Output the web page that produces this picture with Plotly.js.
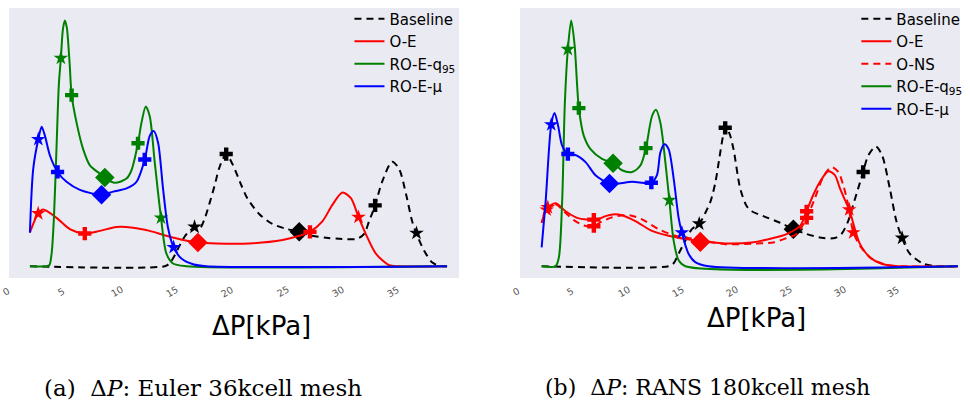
<!DOCTYPE html>
<html>
<head>
<meta charset="utf-8">
<script src="https://cdn.plot.ly/plotly-3.0.1.min.js"></script>
<style>
html,body{margin:0;padding:0;background:#fff;}
#chart{width:970px;height:403px;}
</style>
</head>
<body>
<div id="chart"></div>
<script>
// ---------------- DATA ----------------
const tickValues = [0, 5, 10, 15, 20, 25, 30, 35];
const seriesNames = ["Baseline", "O-E", "O-NS", "RO-E-q<sub>95</sub>", "RO-E-\u03bc"];
const captionA = "(a)\u00a0\u00a0\u0394<i>P</i>: Euler 36kcell mesh";
const captionB = "(b)\u00a0\u00a0\u0394<i>P</i>: RANS 180kcell mesh";
const axisLabel = "\u0394P[kPa]";

// (a) Euler 36kcell mesh
const aBaseX = [2.16, 14.34, 14.79, 15.24, 15.69, 16.14, 16.59, 17.04, 17.49, 17.94, 18.39, 18.85, 19.3, 19.9, 20.47, 21.25, 21.82, 22.9, 24.08, 25.34, 26.51, 27.68, 28.94, 30.12, 31.74, 32.37, 32.82, 33.36, 33.99, 34.9, 35.53, 36.16, 36.7, 37.06, 37.78, 38.5, 39.13, 39.86];
const aBaseY = [0, 0, 0.012, 0.044, 0.084, 0.12, 0.144, 0.156, 0.152, 0.192, 0.256, 0.328, 0.404, 0.456, 0.416, 0.332, 0.276, 0.212, 0.172, 0.152, 0.14, 0.124, 0.116, 0.112, 0.112, 0.132, 0.184, 0.248, 0.344, 0.426, 0.396, 0.292, 0.184, 0.136, 0.064, 0.016, 0.002, 0];
const aBaseMX = [17.04, 19.9, 26.5, 33.36, 37.1];
const aBaseMY = [0.16, 0.457, 0.14, 0.248, 0.135];

const aOEX = [2.16, 2.91, 3.36, 4.57, 5.77, 7.12, 8.48, 9.98, 11.48, 12.98, 14.49, 15.99, 17.34, 19.0, 22.0, 25.0, 26.51, 27.47, 28.61, 29.51, 30.41, 31.17, 31.86, 32.52, 33.43, 34.63, 35.53, 39.86];
const aOEY = [0.137, 0.215, 0.231, 0.197, 0.151, 0.133, 0.144, 0.16, 0.157, 0.144, 0.124, 0.107, 0.097, 0.093, 0.093, 0.107, 0.124, 0.14, 0.184, 0.251, 0.3, 0.277, 0.2, 0.131, 0.051, 0.004, 0, 0];
const aOEMX = [2.91, 7.12, 17.34, 27.47, 31.86];
const aOEMY = [0.215, 0.133, 0.097, 0.14, 0.2];

const aQ95X = [2.16, 3.6, 3.91, 4.12, 4.33, 4.57, 4.78, 4.96, 5.14, 5.32, 5.5, 5.62, 5.77, 5.93, 6.38, 6.97, 7.58, 8.48, 8.93, 9.83, 10.89, 11.34, 11.93, 12.24, 12.63, 12.99, 13.44, 14.01, 14.5, 15.09, 16.3, 39.86];
const aQ95Y = [0, 0, 0.004, 0.051, 0.197, 0.491, 0.744, 0.848, 0.964, 1.001, 0.971, 0.911, 0.811, 0.697, 0.584, 0.477, 0.411, 0.377, 0.361, 0.34, 0.357, 0.391, 0.501, 0.584, 0.651, 0.611, 0.424, 0.197, 0.051, 0.011, 0, 0];
const aQ95MX = [4.96, 5.93, 8.93, 11.93, 14.01];
const aQ95MY = [0.848, 0.697, 0.361, 0.501, 0.197];

const aMuX = [2.16, 2.46, 2.92, 3.22, 3.52, 3.97, 4.66, 5.47, 6.68, 8.63, 9.68, 10.89, 11.79, 12.54, 12.99, 13.35, 13.74, 14.19, 14.64, 15.15, 15.85, 16.9, 18.1, 39.86];
const aMuY = [0.137, 0.397, 0.517, 0.568, 0.531, 0.451, 0.384, 0.344, 0.311, 0.291, 0.304, 0.317, 0.344, 0.435, 0.531, 0.551, 0.504, 0.317, 0.157, 0.077, 0.031, 0.008, 0, 0];
const aMuMX = [2.92, 4.66, 8.63, 12.54, 15.15];
const aMuMY = [0.517, 0.384, 0.291, 0.435, 0.077];

// (b) RANS 180kcell mesh
const bBaseX = [2.38, 14.15, 14.62, 15.08, 15.7, 16.31, 16.99, 17.55, 18.04, 18.5, 18.87, 19.24, 19.43, 19.8, 20.17, 20.79, 21.4, 21.86, 22.94, 24.49, 25.72, 26.95, 28.49, 29.57, 30.18, 30.8, 31.27, 31.73, 32.19, 32.66, 33.37, 33.95, 34.66, 35.27, 35.8, 36.51, 37.74, 38.95, 40.98];
const bBaseY = [0, 0, 0.012, 0.051, 0.104, 0.151, 0.173, 0.217, 0.264, 0.344, 0.444, 0.54, 0.568, 0.54, 0.477, 0.317, 0.244, 0.224, 0.204, 0.177, 0.151, 0.131, 0.115, 0.115, 0.131, 0.184, 0.251, 0.317, 0.384, 0.451, 0.488, 0.451, 0.317, 0.184, 0.115, 0.051, 0.011, 0, 0];
const bBaseMX = [16.99, 19.4, 25.72, 32.19, 35.8];
const bBaseMY = [0.173, 0.564, 0.151, 0.384, 0.115];

const bOEX = [2.38, 2.9, 3.67, 4.6, 5.67, 6.6, 7.49, 8.3, 8.97, 9.83, 11.07, 12.61, 14.15, 15.7, 16.93, 19.4, 21.86, 23.87, 25.1, 26.34, 26.95, 27.57, 28.19, 28.95, 29.57, 30.04, 30.5, 30.9, 31.27, 31.89, 32.81, 34.04, 35.43, 40.98];
const bOEY = [0.177, 0.237, 0.257, 0.224, 0.197, 0.19, 0.19, 0.204, 0.211, 0.208, 0.184, 0.144, 0.124, 0.111, 0.104, 0.093, 0.097, 0.115, 0.131, 0.164, 0.224, 0.291, 0.344, 0.387, 0.371, 0.317, 0.27, 0.231, 0.175, 0.091, 0.037, 0.008, 0, 0];
const bOEMX = [2.95, 7.22, 17.09, 26.95, 30.9];
const bOEMY = [0.24, 0.19, 0.101, 0.224, 0.231];

const bONSX = [2.38, 2.9, 3.67, 4.53, 5.37, 6.29, 7.15, 7.96, 8.76, 9.99, 10.73, 11.68, 13.23, 14.77, 16.62, 19.4, 21.86, 23.87, 25.1, 26.02, 26.95, 27.72, 28.49, 29.26, 29.88, 30.34, 30.8, 31.27, 31.89, 32.96, 34.32, 35.89, 40.98];
const bONSY = [0.177, 0.232, 0.252, 0.22, 0.188, 0.166, 0.163, 0.182, 0.197, 0.208, 0.206, 0.191, 0.151, 0.124, 0.111, 0.09, 0.092, 0.097, 0.115, 0.131, 0.197, 0.277, 0.364, 0.404, 0.384, 0.331, 0.25, 0.14, 0.084, 0.031, 0.006, 0, 0];
const bONSMX = [2.85, 7.22, 17.09, 26.95, 31.27];
const bONSMY = [0.23, 0.163, 0.098, 0.197, 0.137];

const bQ95X = [2.38, 3.67, 3.98, 4.28, 4.53, 4.81, 5.12, 5.43, 5.83, 6.29, 6.91, 7.98, 9.0, 9.83, 10.76, 11.54, 12.05, 12.61, 12.98, 13.39, 13.85, 14.22, 14.62, 15.08, 15.7, 40.98];
const bQ95Y = [0, 0, 0.037, 0.264, 0.664, 0.884, 1.001, 0.904, 0.644, 0.531, 0.477, 0.437, 0.42, 0.391, 0.384, 0.411, 0.481, 0.611, 0.637, 0.584, 0.424, 0.269, 0.104, 0.024, 0, 0];
const bQ95MX = [4.81, 5.83, 9.0, 12.05, 14.22];
const bQ95MY = [0.884, 0.644, 0.42, 0.481, 0.269];

const bMuX = [2.38, 2.75, 3.27, 3.58, 3.91, 4.28, 4.81, 5.52, 6.45, 7.37, 8.67, 9.53, 10.76, 12.55, 13.07, 13.39, 13.76, 14.15, 14.62, 15.08, 15.38, 16.0, 16.62, 17.85, 40.98];
const bMuY = [0.077, 0.264, 0.577, 0.624, 0.571, 0.491, 0.457, 0.453, 0.424, 0.371, 0.337, 0.337, 0.344, 0.34, 0.371, 0.464, 0.497, 0.477, 0.357, 0.197, 0.137, 0.051, 0.017, 0, 0];
const bMuMX = [3.27, 4.81, 8.67, 12.55, 15.38];
const bMuMY = [0.577, 0.457, 0.337, 0.34, 0.137];

// ---------------- STYLE ----------------
const markerSymbols = ["star", "cross", "diamond", "cross", "star"];
const markerSizes = [11, 11, 15, 11, 11];
const domA = [0, 0.4733], domB = [0.5373, 1];
const rangeA = [0.27, 40.95], rangeB = [0.37, 41.17];
const yRange = [-0.048, 1.052];

function curve(x, y, name, color, dash, xa, ya, legend) {
  return {
    x: x, y: y, name: name, type: "scatter", mode: "lines",
    line: {color: color, width: 2, dash: dash, shape: "spline", smoothing: 0.8},
    xaxis: xa, yaxis: ya, legend: legend, hoverinfo: "skip"
  };
}
function marks(x, y, color, xa, ya) {
  return {
    x: x, y: y, type: "scatter", mode: "markers", showlegend: false,
    marker: {symbol: markerSymbols, size: markerSizes, color: color, opacity: 1, line: {width: 0}},
    xaxis: xa, yaxis: ya, hoverinfo: "skip", cliponaxis: false
  };
}
const dashPat = "7px,5px";
const traces = [
  curve(aBaseX, aBaseY, seriesNames[0], "black", dashPat, "x", "y", "legend"),
  marks(aBaseMX, aBaseMY, "black", "x", "y"),
  curve(aOEX, aOEY, seriesNames[1], "#ff0000", "solid", "x", "y", "legend"),
  marks(aOEMX, aOEMY, "#ff0000", "x", "y"),
  curve(aQ95X, aQ95Y, seriesNames[3], "#008000", "solid", "x", "y", "legend"),
  marks(aQ95MX, aQ95MY, "#008000", "x", "y"),
  curve(aMuX, aMuY, seriesNames[4], "#0000ff", "solid", "x", "y", "legend"),
  marks(aMuMX, aMuMY, "#0000ff", "x", "y"),

  curve(bBaseX, bBaseY, seriesNames[0], "black", dashPat, "x2", "y2", "legend2"),
  marks(bBaseMX, bBaseMY, "black", "x2", "y2"),
  curve(bOEX, bOEY, seriesNames[1], "#ff0000", "solid", "x2", "y2", "legend2"),
  marks(bOEMX, bOEMY, "#ff0000", "x2", "y2"),
  curve(bONSX, bONSY, seriesNames[2], "#ff0000", dashPat, "x2", "y2", "legend2"),
  marks(bONSMX, bONSMY, "#ff0000", "x2", "y2"),
  curve(bQ95X, bQ95Y, seriesNames[3], "#008000", "solid", "x2", "y2", "legend2"),
  marks(bQ95MX, bQ95MY, "#008000", "x2", "y2"),
  curve(bMuX, bMuY, seriesNames[4], "#0000ff", "solid", "x2", "y2", "legend2"),
  marks(bMuMX, bMuMY, "#0000ff", "x2", "y2")
];

function toPaper(v, dom, rng) {
  return dom[0] + (v - rng[0]) / (rng[1] - rng[0]) * (dom[1] - dom[0]);
}
const annotations = [];
[[domA, rangeA], [domB, rangeB]].forEach(function (p) {
  tickValues.forEach(function (v) {
    annotations.push({
      x: toPaper(v, p[0], p[1]), y: -0.05, xref: "paper", yref: "paper",
      text: String(v), showarrow: false, textangle: -30,
      xanchor: "center", yanchor: "middle",
      font: {family: "DejaVu Sans", size: 9.5, color: "#555555"}
    });
  });
});
annotations.push({x: 0.2655, y: -0.178, xref: "paper", yref: "paper", text: axisLabel, showarrow: false,
  xanchor: "center", yanchor: "middle", font: {family: "DejaVu Sans", size: 26, color: "black"}});
annotations.push({x: 0.7857, y: -0.148, xref: "paper", yref: "paper", text: axisLabel, showarrow: false,
  xanchor: "center", yanchor: "middle", font: {family: "DejaVu Sans", size: 26, color: "black"}});
annotations.push({x: 0.2036, y: -0.407, xref: "paper", yref: "paper", text: captionA, showarrow: false,
  xanchor: "center", yanchor: "middle", font: {family: "DejaVu Serif", size: 23, color: "black"}});
annotations.push({x: 0.7342, y: -0.407, xref: "paper", yref: "paper", text: captionB, showarrow: false,
  xanchor: "center", yanchor: "middle", font: {family: "DejaVu Serif", size: 22, color: "black"}});

const hiddenAxis = {showgrid: false, zeroline: false, showline: false, showticklabels: false, ticks: ""};
const legendStyle = {
  bgcolor: "rgba(0,0,0,0)", borderwidth: 0,
  font: {family: "DejaVu Sans", size: 15, color: "black"},
  xanchor: "left", yanchor: "top", y: 1.02, itemwidth: 30, tracegroupgap: 0
};
const layout = {
  width: 970, height: 403,
  margin: {l: 9, r: 8, t: 3, b: 125, pad: 0},
  paper_bgcolor: "white", plot_bgcolor: "#EAEAF2",
  font: {family: "DejaVu Sans"},
  xaxis: Object.assign({domain: domA, range: rangeA, anchor: "y"}, hiddenAxis),
  yaxis: Object.assign({domain: [0, 1], range: yRange, anchor: "x"}, hiddenAxis),
  xaxis2: Object.assign({domain: domB, range: rangeB, anchor: "y2"}, hiddenAxis),
  yaxis2: Object.assign({domain: [0, 1], range: yRange, anchor: "x2"}, hiddenAxis),
  legend: Object.assign({x: 0.358}, legendStyle),
  legend2: Object.assign({x: 0.891}, legendStyle),
  annotations: annotations,
  showlegend: true
};
Plotly.newPlot("chart", traces, layout, {staticPlot: true, displayModeBar: false});
</script>
</body>
</html>
